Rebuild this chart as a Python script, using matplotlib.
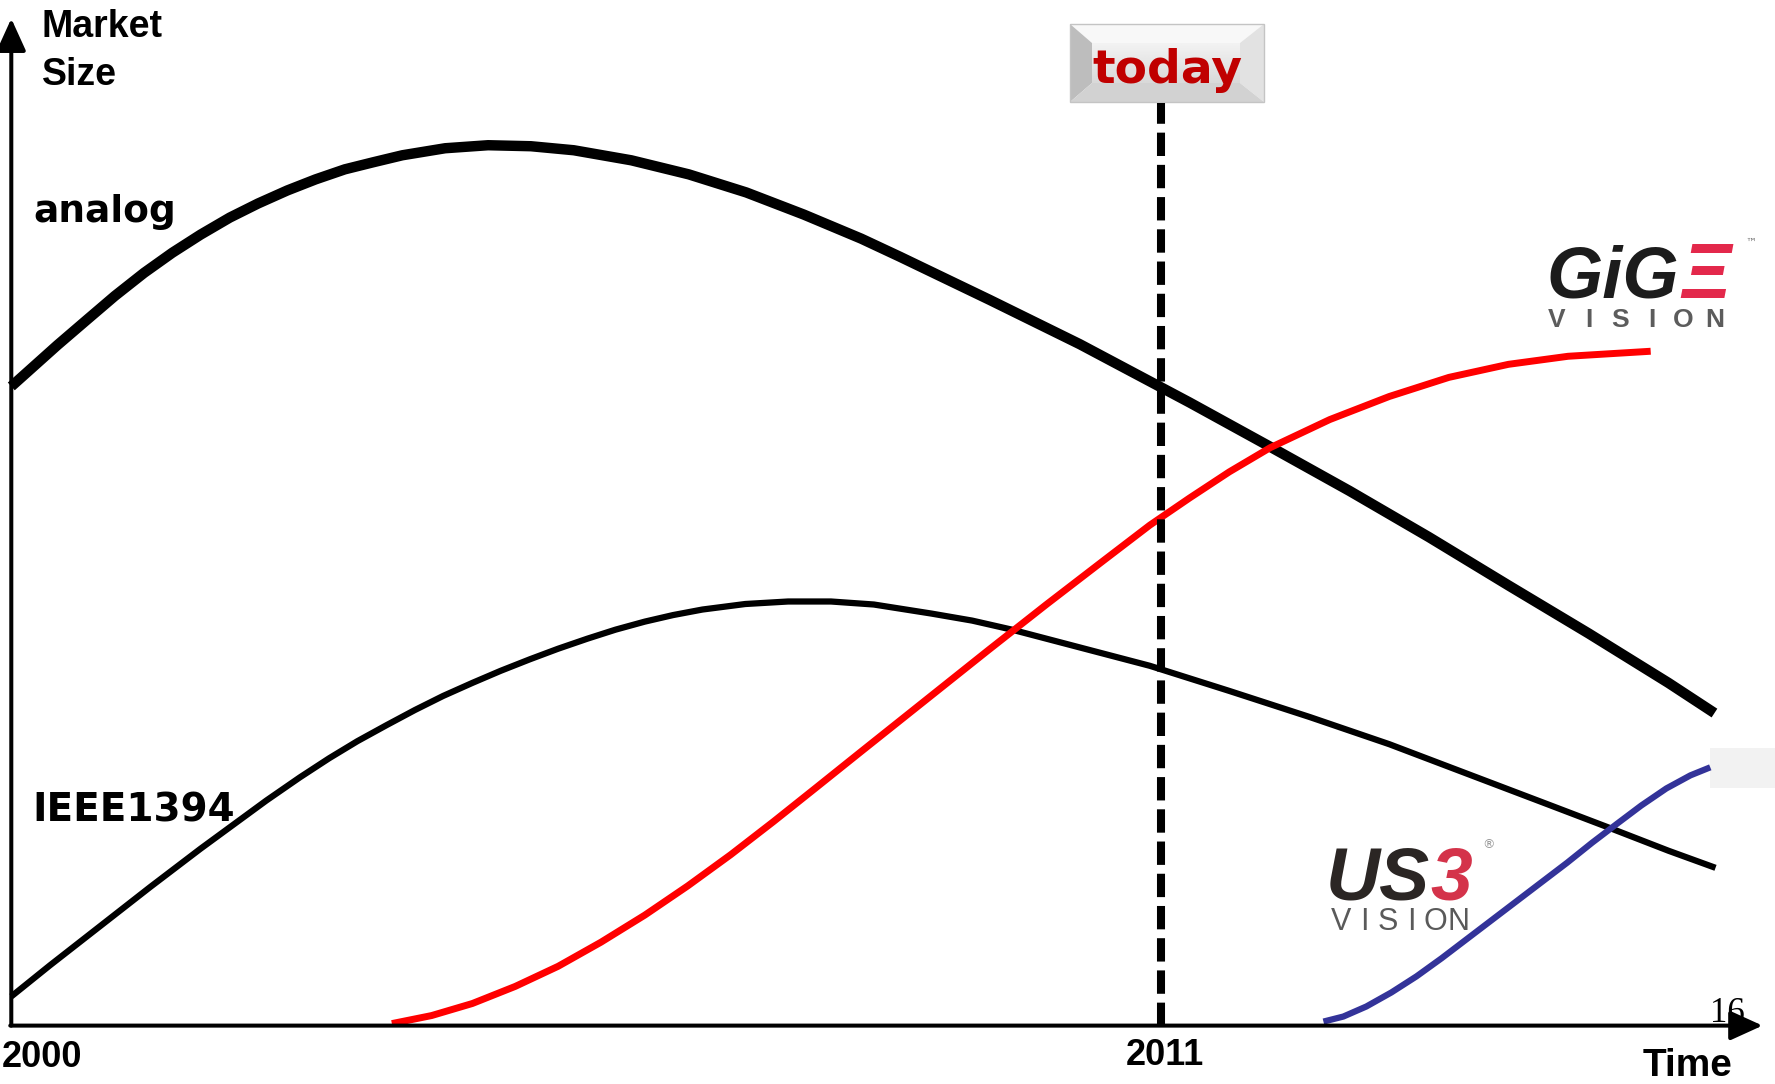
import numpy as np
import matplotlib.pyplot as plt
from matplotlib.patches import Polygon, Rectangle

# market size over time (year, relative size 0..100)
analog_years = [2000.00, 2000.44, 2000.72, 2000.99, 2001.27, 2001.54, 2001.81, 2002.09,
                2002.36, 2002.64, 2002.91, 2003.19, 2003.46, 2003.74, 2004.15, 2004.56,
                2004.97, 2005.38, 2005.93, 2006.48, 2007.03, 2007.58, 2008.13, 2008.50,
                2009.36, 2010.22, 2010.89, 2011.27, 2012.04, 2012.80, 2013.56, 2014.32,
                2015.09, 2015.85, 2016.29]
analog_size = [63.6, 67.7, 70.2, 72.6, 74.9, 76.9, 78.7, 80.4,
               81.8, 83.1, 84.2, 85.2, 85.9, 86.6, 87.3, 87.6,
               87.5, 87.1, 86.1, 84.7, 82.9, 80.7, 78.3, 76.5,
               72.2, 67.8, 64.1, 62.0, 57.6, 53.2, 48.6, 43.8,
               39.0, 34.1, 31.1]

ieee_years = [2000.00, 2000.37, 2000.85, 2001.33, 2001.81, 2002.44, 2002.76, 2003.04,
              2003.31, 2003.59, 2003.86, 2004.13, 2004.41, 2004.68, 2004.96, 2005.23,
              2005.51, 2005.78, 2006.06, 2006.33, 2006.61, 2007.02, 2007.43, 2007.84,
              2008.25, 2008.80, 2009.19, 2009.57, 2010.01, 2010.45, 2010.89, 2011.65,
              2012.42, 2013.18, 2013.94, 2014.70, 2015.28, 2015.85, 2016.30]
ieee_size = [2.9, 6.0, 9.9, 13.8, 17.6, 22.4, 24.7, 26.6,
             28.3, 29.9, 31.4, 32.8, 34.1, 35.3, 36.45, 37.5,
             38.5, 39.4, 40.2, 40.85, 41.4, 41.95, 42.2, 42.2,
             41.9, 41.0, 40.3, 39.4, 38.2, 37.0, 35.8, 33.3,
             30.7, 28.0, 25.0, 22.0, 19.7, 17.4, 15.7]

gige_years = [2003.64, 2004.02, 2004.41, 2004.82, 2005.23, 2005.64, 2006.06, 2006.47,
              2006.88, 2007.29, 2007.70, 2008.12, 2008.53, 2008.94, 2009.35, 2009.90,
              2010.45, 2010.89, 2011.27, 2011.65, 2012.04, 2012.61, 2013.18, 2013.75,
              2014.32, 2014.89, 2015.68]
gige_size = [0.2, 1.0, 2.2, 3.9, 5.9, 8.3, 11.0, 13.9,
             17.0, 20.3, 23.7, 27.2, 30.6, 34.0, 37.4, 41.9,
             46.3, 49.8, 52.5, 55.1, 57.5, 60.3, 62.6, 64.5,
             65.8, 66.6, 67.1]

usb3_years = [2012.55, 2012.74, 2012.96, 2013.20, 2013.44, 2013.68, 2013.92, 2014.16,
              2014.40, 2014.64, 2014.88, 2015.12, 2015.36, 2015.59, 2015.83, 2016.06,
              2016.25]
usb3_size = [0.4, 0.9, 1.9, 3.3, 4.9, 6.7, 8.6, 10.5,
             12.4, 14.3, 16.2, 18.2, 20.1, 21.9, 23.6, 24.9,
             25.7]

today_year = 2011
start_year = 2000
labels = ["analog", "IEEE1394"]
tick_labels = ["2000", "2011"]

W, H = 1775, 1084
fig = plt.figure(figsize=(W / 100, H / 100), dpi=100)

# pixel-space layer for labels, logos and the "today" sign
deco = fig.add_axes([0, 0, 1, 1])
deco.axis("off")

# data layer
ax = fig.add_axes([0, 0, 1, 1], zorder=2)
ax.patch.set_alpha(0)
ax.set_xlim(1999.892, 2016.869)
ax.set_ylim(-5.81, 102.05)
ax.axis("off")

line_kw = dict(solid_capstyle="butt", solid_joinstyle="round")
ax.plot(analog_years, analog_size, color="black", lw=7.5, **line_kw)
ax.plot(ieee_years, ieee_size, color="black", lw=4.5, **line_kw)
ax.plot(gige_years, gige_size, color="#ff0000", lw=5, **line_kw)
ax.plot(usb3_years, usb3_size, color="#333399", lw=4.5, **line_kw)

# today marker
ax.plot([today_year, today_year], [0, 91.8], color="black", lw=5.8,
        linestyle=(0, (2.9, 1.1)), dash_capstyle="butt")

# axes with arrows
arrow = dict(arrowstyle="-|>,head_length=1.1,head_width=0.5", color="black",
             lw=2.9, mutation_scale=18, shrinkA=0, shrinkB=0)
ax.annotate("", xy=(start_year, 100.2), xytext=(start_year, 0), arrowprops=arrow)
ax.annotate("", xy=(2016.75, 0), xytext=(start_year - 0.01, 0), arrowprops=arrow)

sans_b = dict(family="Liberation Sans", weight="bold")
verd_b = dict(family="DejaVu Sans", weight="bold")

deco.text(42, 37, "Market", fontsize=27, va="baseline", **sans_b)
deco.text(42, 85, "Size", fontsize=27, va="baseline", **sans_b)
deco.text(33, 222, labels[0], fontsize=27, va="baseline", **verd_b)
deco.text(32, 822, labels[1], fontsize=28, va="baseline", **verd_b)
deco.text(2, 1067, tick_labels[0], fontsize=26, va="baseline", **sans_b)
deco.text(1165, 1065, tick_labels[1], fontsize=26, va="baseline", ha="center", **sans_b)
deco.text(1643, 1084, "Time", fontsize=28, va="bottom", **sans_b)
ax.text(1710, 1022, "16", fontsize=25, va="baseline", family="Liberation Serif",
        transform=deco.transData, zorder=5)

# "today" sign with bevel
x0, x1, y0, y1 = 1070, 1264, 24, 102
xi0, xi1, yi0, yi1 = 1092, 1240, 43, 83
deco.add_patch(Polygon([(x0, y0), (x1, y0), (xi1, yi0), (xi0, yi0)], color="#f8f8f8", lw=0))
deco.add_patch(Polygon([(x0, y0), (xi0, yi0), (xi0, yi1), (x0, y1)], color="#bdbdbd", lw=0))
deco.add_patch(Polygon([(x1, y0), (x1, y1), (xi1, yi1), (xi1, yi0)], color="#e2e2e2", lw=0))
deco.add_patch(Polygon([(x0, y1), (xi0, yi1), (xi1, yi1), (x1, y1)], color="#d2d2d2", lw=0))
grad = np.linspace(0.95, 0.85, 50).reshape(-1, 1)
deco.imshow(grad, cmap="gray", vmin=0, vmax=1, extent=(xi0, xi1, yi1, yi0),
            aspect="auto", zorder=1)
deco.add_patch(Rectangle((x0, y0), x1 - x0, y1 - y0, fill=False, ec="#c4c4c4", lw=1, zorder=2))
deco.text(1167, 83, "today", fontsize=34, color="#c00000", ha="center", va="baseline",
          zorder=3, **verd_b)

# GigE Vision logo
logo = dict(family="Liberation Sans", weight="bold", style="italic")
deco.text(1546, 298, "GiG", fontsize=52, color="#1c1c1c", va="baseline", **logo)
deco.text(1680, 298, "Ξ", fontsize=56, color="#e3284b", va="baseline", **logo)
for cx, ch in zip(np.linspace(1557, 1715, 6), "VISION"):
    deco.text(cx, 327, ch, fontsize=19, color="#5c5c5c", ha="center", va="baseline",
              family="Liberation Sans", weight="bold")
deco.text(1745, 246, "™", fontsize=8, color="#777777", va="baseline")

# USB3 Vision logo
deco.text(1326, 900, "US", fontsize=54, color="#2b2624", va="baseline", **logo)
deco.text(1430, 900, "3", fontsize=54, color="#d4334a", va="baseline", **logo)
for cx, ch in zip(np.linspace(1341, 1459, 6), "VISION"):
    deco.text(cx, 930, ch, fontsize=22, color="#5a5a5a", ha="center", va="baseline",
              family="Liberation Sans")
deco.text(1482, 848, "®", fontsize=9, color="#999999", va="baseline")

deco.add_patch(Rectangle((1710, 748), 65, 40, color="#f2f2f2", lw=0))

deco.set_xlim(0, W)
deco.set_ylim(H, 0)

fig.savefig("out.png", dpi=100)
